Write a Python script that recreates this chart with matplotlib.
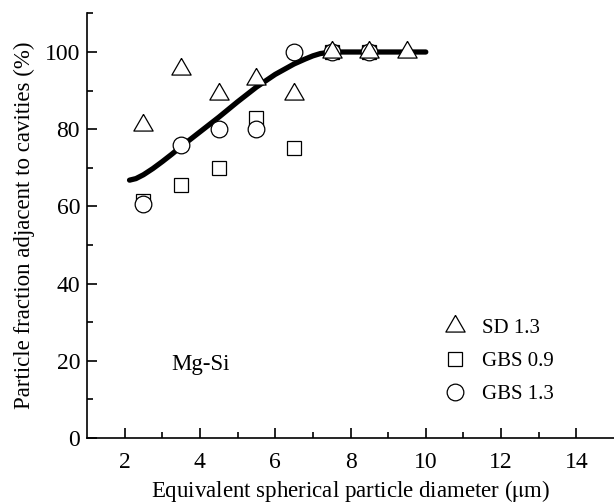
import numpy as np
import matplotlib
matplotlib.use("Agg")
from matplotlib import pyplot as plt

plt.rcParams['font.family'] = ['Liberation Serif', 'DejaVu Serif']
plt.rcParams['mathtext.fontset'] = 'stix'

# scatter data
sd_x = [2.5, 3.5, 4.5, 5.5, 6.5, 7.5, 8.5, 9.5]
sd_y = [81, 95.5, 89, 93, 89, 100, 100, 100]

gbs09_x = [2.5, 3.5, 4.5, 5.5, 6.5, 7.5, 8.5]
gbs09_y = [61.5, 65.5, 70, 83, 75, 100, 100]

gbs13_x = [2.5, 3.5, 4.5, 5.5, 6.5, 7.5, 8.5]
gbs13_y = [60.5, 76, 80, 80, 100, 100, 100]

# fitted trend line
fit_x = [2.13, 2.3, 2.5, 2.75, 3.0, 3.25, 3.5, 3.75, 4.0, 4.5, 5.0, 5.5, 6.0, 6.5, 6.8, 7.0, 7.2, 7.5, 8.0, 9.0, 10.0]
fit_y = [66.8, 67.2, 68.2, 69.8, 71.6, 73.5, 75.5, 77.4, 79.3, 83.1, 87.1, 90.9, 94.2, 96.9, 98.2, 99.0, 99.6, 100, 100, 100, 100]

fig = plt.figure(figsize=(6.14, 5.04), dpi=100)
ax = fig.add_axes([0.1417, 0.131, 0.8583, 0.8424])

ax.plot(fit_x, fit_y, color='black', lw=3.8, solid_capstyle='round', zorder=1)

# equilateral triangle marker
tri = [(0, 0.577), (-0.5, -0.289), (0.5, -0.289), (0, 0.577)]
ax.plot(gbs09_x, gbs09_y, ls='none', marker='s', ms=10.5, mfc='white', mec='black', mew=0.9, label='GBS 0.9', zorder=2)
ax.plot(gbs13_x, gbs13_y, ls='none', marker='o', ms=12, mfc='white', mec='black', mew=0.9, label='GBS 1.3', zorder=3)
ax.plot(sd_x, sd_y, ls='none', marker=tri, ms=16, mfc='white', mec='black', mew=0.9, label='SD 1.3', zorder=4)

ax.set_xlim(1, 15)
ax.set_ylim(0, 110)
ax.set_xticks([2, 4, 6, 8, 10, 12, 14])
ax.set_xticks([3, 5, 7, 9, 11, 13], minor=True)
ax.set_yticks([0, 20, 40, 60, 80, 100])
ax.set_yticks([10, 30, 50, 70, 90, 110], minor=True)

for s in ['top', 'right']:
    ax.spines[s].set_visible(False)
for s in ['left', 'bottom']:
    ax.spines[s].set_linewidth(1.2)
ax.spines['bottom'].set_clip_on(False)

ax.tick_params(which='major', direction='in', length=7, width=1.2, labelsize=17)
ax.tick_params(axis='x', which='major', pad=10)
ax.tick_params(axis='y', which='major', pad=5)
ax.tick_params(which='minor', direction='in', length=4, width=1.2)

ax.set_xlabel(r'Equivalent spherical particle diameter ($\mathrm{\mu}$m)', fontsize=16.5, labelpad=4)
ax.set_ylabel('Particle fraction adjacent to cavities (%)', fontsize=16.5, labelpad=7)

ax.text(3.25, 19, 'Mg-Si', fontsize=16.5, va='center', ha='left')

h, l = ax.get_legend_handles_labels()
order = [2, 0, 1]
ax.legend([h[i] for i in order], [l[i] for i in order], loc='center left',
          bbox_to_anchor=(0.642, 0.18), frameon=False, fontsize=15,
          handlelength=1.0, handletextpad=0.8, labelspacing=0.65)

fig.savefig('out.png', dpi=100)
